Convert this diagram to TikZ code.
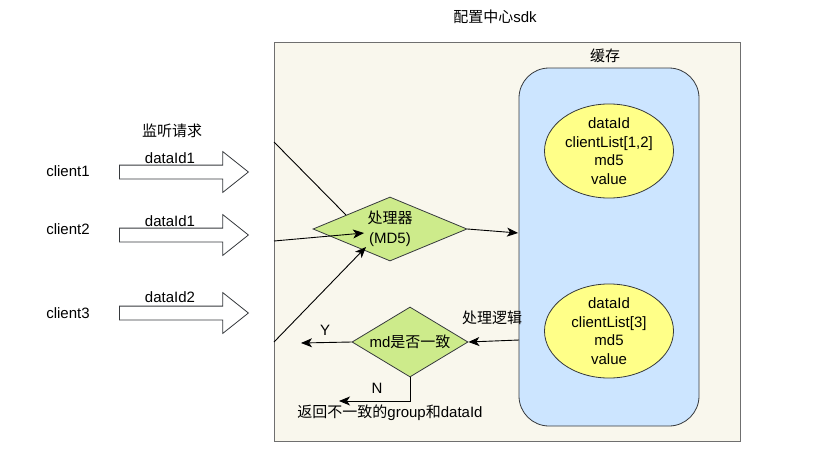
\documentclass[tikz,border=0pt]{standalone}
\usepackage{fontspec}
\setmainfont{Liberation Sans}
\newfontfamily\cjk{Noto Sans CJK SC}
\usetikzlibrary{shapes.geometric,shapes.arrows,arrows.meta}
\definecolor{sdkFill}{HTML}{F9F7ED}
\definecolor{sdkLine}{HTML}{6F6F6F}
\definecolor{cacheFill}{HTML}{CCE5FF}
\definecolor{darkLine}{HTML}{36393D}
\definecolor{entryFill}{HTML}{FFFF88}
\definecolor{checkFill}{HTML}{CDEB8B}
\tikzset{
  arr/.style={-{Stealth[length=11pt,width=9pt,inset=3pt]}, line width=0.9pt},
  plain/.style={line width=0.9pt},
  decision/.style={diamond, draw=darkLine, fill=checkFill, line width=0.8pt, inner sep=0pt},
  entry/.style={ellipse, draw=darkLine, fill=entryFill, line width=0.8pt, inner sep=0pt,
    minimum width=129pt, minimum height=90pt, align=center},
  request/.style={single arrow, draw=darkLine, fill=white, line width=0.8pt, inner sep=6.5pt,
    minimum width=40pt, minimum height=129pt, single arrow head extend=13.5pt,
    single arrow tip angle=77, anchor=tail},
}
\begin{document}
\begin{tikzpicture}[x=1pt,y=-1pt,font=\fontsize{15}{18.5}\selectfont]
\useasboundingbox (0,0) rectangle (826,460);

% sdk frame
\node at (495,17) {{\cjk 配置中心}sdk};
\draw[draw=sdkLine, fill=sdkFill, line width=0.8pt] (274,42) rectangle (740,441);

% cache
\node[draw=darkLine, fill=cacheFill, line width=0.8pt, rounded corners=30pt,
  minimum width=180pt, minimum height=358pt] (cache) at (609,247) {};
\node at (605,56) {\cjk 缓存};
\node[entry] (entryA) at (609,151) {dataId\\clientList[1,2]\\md5\\value};
\node[entry] (entryB) at (609,331) {dataId\\clientList[3]\\md5\\value};

% clients
\node at (172,131) {\cjk 监听请求};
\node (clientA) at (68,171) {client1};
\node (clientB) at (68,229) {client2};
\node (clientC) at (68,313) {client3};
\node[request] (reqA) at (119,172) {};
\node[request] (reqB) at (119,235) {};
\node[request] (reqC) at (119,313) {};
\node[above=-2pt] at (170,165) {dataId1};
\node[above=-2pt] at (170,228) {dataId1};
\node[above=0pt] at (170,306) {dataId2};

% processing
\node[decision, minimum width=154pt, minimum height=64pt] (proc) at (390,229) {};
\node[align=center] at (proc) {\cjk 处理器\\[1pt](MD5)};
\node[decision, minimum width=116pt, minimum height=70pt] (check) at (410,342) {};
\node at (check) {md{\cjk 是否一致}};

\coordinate (inA) at (274,142);
\coordinate (inB) at (274,241);
\coordinate (inC) at (274,342);
\coordinate (hitA) at (346,215);
\coordinate (hitB) at (364,233);
\coordinate (hitC) at (366,247);
\draw[plain] (inA) -- (hitA);
\draw[arr] (inB) -- (hitB);
\draw[arr] (inC) -- (hitC);

\coordinate (toCache) at (518,233);
\draw[arr] (proc.east) -- (toCache);

\coordinate (fromCache) at (519,340);
\draw[arr] (fromCache) -- (check.east);
\node at (492,318) {\cjk 处理逻辑};

\coordinate (yesEnd) at (301,343);
\draw[arr] (check.west) -- (yesEnd);
\node at (325,330) {Y};

\coordinate (noEnd) at (339,401);
\draw[arr] (check.south) |- (noEnd);
\node at (377,388) {N};
\node at (390,413) {{\cjk 返回不一致的}group{\cjk 和}dataId};
\end{tikzpicture}
\end{document}
